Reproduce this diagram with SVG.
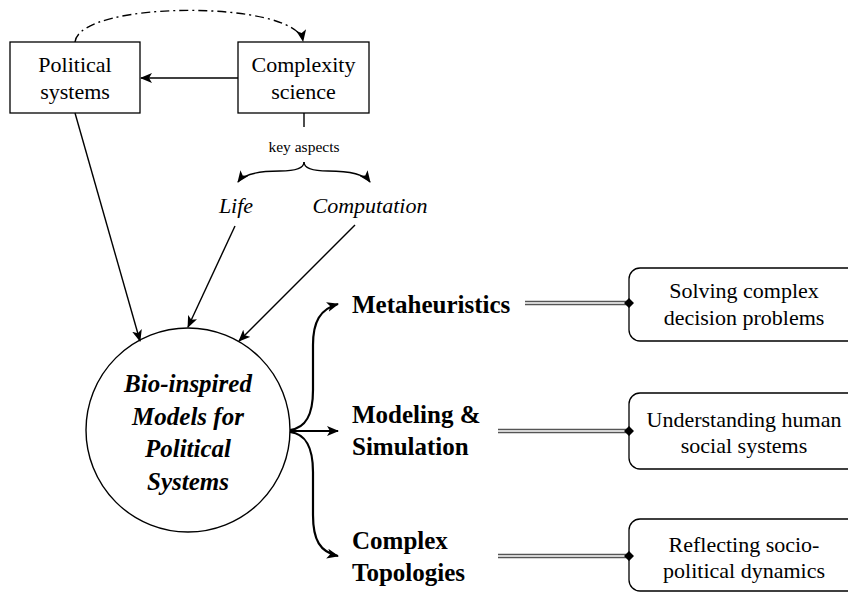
<svg xmlns="http://www.w3.org/2000/svg" width="848" height="594" viewBox="0 0 848 594">
<defs>
<marker id="arr" viewBox="0 0 12 10" refX="11" refY="5" markerWidth="12" markerHeight="10" markerUnits="userSpaceOnUse" orient="auto">
<path d="M0,0 L12,5 L0,10 L3,5 z" fill="#000"/>
</marker>
<marker id="arrB" viewBox="0 0 12 10" refX="11" refY="5" markerWidth="12" markerHeight="10" markerUnits="userSpaceOnUse" orient="auto">
<path d="M0,0 L12,5 L0,10 L3,5 z" fill="#000"/>
</marker>
<marker id="dia" viewBox="0 0 10 10" refX="5" refY="5" markerWidth="10" markerHeight="10" markerUnits="userSpaceOnUse" orient="auto">
<path d="M0,5 L5,0 L10,5 L5,10 z" fill="#000"/>
</marker>
</defs>
<style>
text { font-family: "Liberation Serif", "Times New Roman", serif; fill: #000; }
.box { fill: #fff; stroke: #000; stroke-width: 1.3; }
.rbox { fill: #fff; stroke: #000; stroke-width: 1.3; }
.n { font-size: 22px; text-anchor: middle; }
.it { font-size: 22px; font-style: italic; text-anchor: middle; }
.bi { font-size: 25px; font-style: italic; font-weight: bold; text-anchor: middle; }
.b { font-size: 25px; font-weight: bold; }
.small { font-size: 15.5px; text-anchor: middle; }
.ln { fill: none; stroke: #000; stroke-width: 1.4; }
.thick { fill: none; stroke: #000; stroke-width: 2.2; }
.dbl-o { fill: none; stroke: #555; stroke-width: 4.4; }
.dbl-i { fill: none; stroke: #fff; stroke-width: 1.6; }
</style>
<rect width="848" height="594" fill="#fff"/>

<g id="political">
<rect class="box" x="10" y="42" width="130" height="71"/>
<text class="n" x="75" y="72">Political</text>
<text class="n" x="75" y="99">systems</text>
</g>
<g id="complexity">
<rect class="box" x="238" y="42" width="131" height="71"/>
<text class="n" x="303.5" y="72">Complexity</text>
<text class="n" x="303.5" y="99">science</text>
</g>
<g id="keyaspects">
<text class="small" x="304" y="152">key aspects</text>
</g>
<g id="life"><text class="it" x="236" y="213">Life</text></g>
<g id="computation"><text class="it" x="370" y="213">Computation</text></g>
<g id="bio">
<circle cx="188" cy="430" r="102" fill="#fff" stroke="#000" stroke-width="1.4"/>
<text class="bi" x="188" y="392">Bio-inspired</text>
<text class="bi" x="188" y="425">Models for</text>
<text class="bi" x="188" y="457">Political</text>
<text class="bi" x="188" y="490">Systems</text>
</g>
<g id="meta"><text class="b" x="352" y="313">Metaheuristics</text></g>
<g id="modsim"><text class="b" x="352" y="423">Modeling &amp;</text><text class="b" x="352" y="455">Simulation</text></g>
<g id="topo"><text class="b" x="352" y="549">Complex</text><text class="b" x="352" y="581">Topologies</text></g>
<g id="solving">
<rect class="rbox" x="629" y="268" width="240" height="73" rx="11"/>
<text class="n" x="744" y="298">Solving complex</text>
<text class="n" x="744" y="325">decision problems</text>
</g>
<g id="understanding">
<rect class="rbox" x="629" y="393" width="240" height="76" rx="11"/>
<text class="n" x="744" y="427">Understanding human</text>
<text class="n" x="744" y="453">social systems</text>
</g>
<g id="reflecting">
<rect class="rbox" x="629" y="519" width="240" height="72" rx="11"/>
<text class="n" x="744" y="552">Reflecting socio-</text>
<text class="n" x="744" y="578">political dynamics</text>
</g>

<g id="connectors">
<path class="ln" d="M75,42 C80,0 296,0 303,41" stroke-dasharray="9 4 2 4" marker-end="url(#arr)"/>
<path class="ln" d="M238,78 L141,78" marker-end="url(#arr)"/>
<path class="ln" d="M304,113 L304,127"/>
<path class="ln" d="M304,162 Q304,171 280,171 Q246,171 238,182" marker-end="url(#arr)"/>
<path class="ln" d="M304,162 Q304,171 328,171 Q362,171 370,182" marker-end="url(#arr)"/>
<path class="ln" d="M75,113 L140,341" marker-end="url(#arr)"/>
<path class="ln" d="M235,226 L188,327" marker-end="url(#arr)"/>
<path class="ln" d="M355,225 L239,341" marker-end="url(#arr)"/>
<path class="thick" d="M290,430 C306,428 313,415 313,390 L313,345 C313,322 320,309 338,304" marker-end="url(#arrB)"/>
<path class="thick" d="M290,431 L338,431" marker-end="url(#arrB)"/>
<path class="thick" d="M290,432 C306,434 313,447 313,472 L313,515 C313,540 320,552 338,556" marker-end="url(#arrB)"/>
<path class="dbl-o" d="M525,303 L629,303"/>
<path class="dbl-i" d="M525,303 L629,303"/>
<path class="dbl-o" d="M498,431 L629,431"/>
<path class="dbl-i" d="M498,431 L629,431"/>
<path class="dbl-o" d="M498,556 L629,556"/>
<path class="dbl-i" d="M498,556 L629,556"/>
<path d="M624,303 L629,298 L634,303 L629,308 z M624,431 L629,426 L634,431 L629,436 z M624,556 L629,551 L634,556 L629,561 z" fill="#000"/>
</g>
</svg>
